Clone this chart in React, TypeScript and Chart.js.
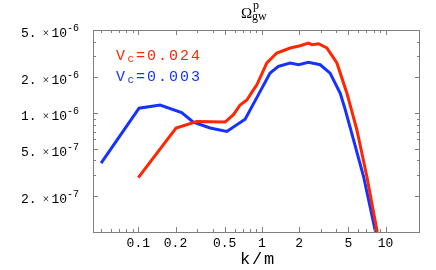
import React, { useEffect, useRef } from "react";
import { Chart, registerables } from "chart.js";

Chart.register(...registerables);

// ---- data ----
const kRed = [0.1, 0.202, 0.297, 0.504, 0.588, 0.666, 0.755, 0.853, 0.91, 1.096, 1.32, 1.69, 2.04, 2.38, 2.54, 2.87, 3.35, 4.04, 4.87, 5.87, 7.06, 8.57];
const omegaRed = [2.87e-7, 7.48e-7, 8.5e-7, 8.4e-7, 9.7e-7, 1.17e-6, 1.29e-6, 1.57e-6, 1.73e-6, 2.64e-6, 3.2e-6, 3.53e-6, 3.69e-6, 3.88e-6, 3.76e-6, 3.83e-6, 3.53e-6, 2.64e-6, 1.47e-6, 7.2e-7, 2.93e-7, 1.0e-7];
const kBlue = [0.05, 0.1014, 0.15, 0.224, 0.279, 0.381, 0.52, 0.731, 0.937, 1.164, 1.36, 1.69, 1.98, 2.38, 2.96, 3.56, 4.3, 4.72, 5.51, 6.64, 8.3];
const omegaBlue = [3.8e-7, 1.1e-6, 1.17e-6, 1.01e-6, 8.4e-7, 7.5e-7, 7.0e-7, 8.9e-7, 1.43e-6, 2.17e-6, 2.47e-6, 2.64e-6, 2.55e-6, 2.67e-6, 2.55e-6, 2.17e-6, 1.47e-6, 1.07e-6, 5.96e-7, 2.93e-7, 1.0e-7];

const seriesLabels = ["0.024", "0.003"];
const xMajorTicks = [0.1, 0.2, 0.5, 1, 2, 5, 10];
const xTickLabels = ["0.1", "0.2", "0.5", "1", "2", "5", "10"];
const xMinorTicks = [0.05, 0.06, 0.07, 0.08, 0.09, 0.3, 0.4, 0.6, 0.7, 0.8, 0.9, 3, 4, 6, 7, 8, 9];
const yMajorTicks = [2e-7, 5e-7, 1e-6, 2e-6, 5e-6];
const yTickMantissa = ["2.", "5.", "1.", "2.", "5."];
const yTickExponent = ["-7", "-7", "-6", "-6", "-6"];
const yMinorTicks = [3e-7, 4e-7, 6e-7, 7e-7, 8e-7, 9e-7, 3e-6, 4e-6];

const RED = "rgb(255,38,0)";
const BLUE = "rgb(22,50,255)";
const MONO = "'Liberation Mono', 'DejaVu Sans Mono', monospace";
const SERIF = "'Liberation Serif', 'DejaVu Serif', serif";

function drawSpaced(ctx: CanvasRenderingContext2D, text: string, x: number, y: number, adv: number) {
  for (let i = 0; i < text.length; i++) {
    ctx.fillText(text[i], x + i * adv, y);
  }
}

const framePlugin = {
  id: "framePlugin",
  afterDraw(chart: any) {
    const { ctx, chartArea: a, scales } = chart;
    const xs = scales.x;
    const ys = scales.y;
    ctx.save();
    // frame
    ctx.strokeStyle = "#7f7f7f";
    ctx.lineWidth = 1;
    ctx.strokeRect(a.left + 0.5, a.top + 0.5, a.right - a.left - 1, a.bottom - a.top);
    ctx.beginPath();
    const xt = (v: number, len: number) => {
      const px = Math.round(xs.getPixelForValue(v)) + 0.5;
      ctx.moveTo(px, a.bottom);
      ctx.lineTo(px, a.bottom - len);
      ctx.moveTo(px, a.top);
      ctx.lineTo(px, a.top + len);
    };
    const yt = (v: number, len: number) => {
      const py = Math.round(ys.getPixelForValue(v)) + 0.5;
      ctx.moveTo(a.left, py);
      ctx.lineTo(a.left + len, py);
      ctx.moveTo(a.right, py);
      ctx.lineTo(a.right - len, py);
    };
    xMajorTicks.forEach((v) => xt(v, 5));
    xMinorTicks.forEach((v) => xt(v, 3));
    yMajorTicks.forEach((v) => yt(v, 5));
    yMinorTicks.forEach((v) => yt(v, 3));
    ctx.stroke();

    // x tick labels
    ctx.fillStyle = "#000";
    ctx.font = `13px ${MONO}`;
    ctx.textAlign = "center";
    ctx.textBaseline = "alphabetic";
    xMajorTicks.forEach((v, i) => {
      ctx.fillText(xTickLabels[i], xs.getPixelForValue(v), 247);
    });

    // y tick labels
    yMajorTicks.forEach((v, i) => {
      const py = ys.getPixelForValue(v);
      const L = a.left;
      ctx.font = `13px ${MONO}`;
      ctx.textAlign = "left";
      ctx.fillText(yTickMantissa[i], L - 72, py + 7);
      ctx.font = `12px ${SERIF}`;
      ctx.textAlign = "center";
      ctx.fillText("\u00d7", L - 47, py + 7);
      ctx.font = `13px ${MONO}`;
      ctx.textAlign = "right";
      ctx.fillText("10", L - 26, py + 7);
      ctx.font = `10px ${MONO}`;
      ctx.textAlign = "left";
      ctx.fillText(yTickExponent[i], L - 26, py + 1);
    });

    // axis label k/m
    ctx.font = `17px ${MONO}`;
    ctx.textAlign = "left";
    drawSpaced(ctx, "k/m", 240, 264, 12);

    // title
    ctx.font = `15px ${SERIF}`;
    ctx.fillText("\u03a9", 241, 18);
    ctx.font = `12px ${SERIF}`;
    ctx.fillText("p", 253, 9);
    ctx.fillText("gw", 252, 20);

    // legend texts
    const leg = [
      { color: RED, y: 59.5, label: seriesLabels[0] },
      { color: BLUE, y: 80.5, label: seriesLabels[1] },
    ];
    leg.forEach((l) => {
      ctx.fillStyle = l.color;
      ctx.font = `15px ${MONO}`;
      ctx.textAlign = "left";
      ctx.fillText("V", 116, l.y);
      ctx.font = `11px ${MONO}`;
      ctx.fillText("c", 127.5, l.y + 2);
      ctx.font = `15px ${MONO}`;
      ctx.fillText("=", 136, l.y);
      drawSpaced(ctx, l.label, 147, l.y, 11);
    });
    ctx.restore();
  },
};

export default function App() {
  const ref = useRef<HTMLCanvasElement | null>(null);
  useEffect(() => {
    if (!ref.current) return;
    const chart = new Chart(ref.current, {
      type: "line",
      data: {
        datasets: [
          {
            label: "Vc=" + seriesLabels[0],
            data: kRed.map((k, i) => ({ x: k, y: omegaRed[i] })),
            borderColor: RED,
            borderWidth: 3,
            pointRadius: 0,
            tension: 0,
            fill: false,
            clip: 0,
          },
          {
            label: "Vc=" + seriesLabels[1],
            data: kBlue.map((k, i) => ({ x: k, y: omegaBlue[i] })),
            borderColor: BLUE,
            borderWidth: 3,
            pointRadius: 0,
            tension: 0,
            fill: false,
            clip: 0,
          },
        ],
      },
      options: {
        animation: false,
        responsive: false,
        devicePixelRatio: 1,
        layout: { padding: { left: 93, top: 30, right: 16, bottom: 38 } },
        plugins: { legend: { display: false }, tooltip: { enabled: false }, title: { display: false } },
        scales: {
          x: { type: "logarithmic", min: 0.043, max: 19, display: false },
          y: { type: "logarithmic", min: 1e-7, max: 5e-6, display: false },
        },
      },
      plugins: [framePlugin],
    } as any);
    return () => chart.destroy();
  }, []);
  return (
    <div style={{ position: "fixed", left: 0, top: 0, width: 436, height: 270, background: "#fff" }}>
      <canvas ref={ref} width={436} height={270} style={{ width: 436, height: 270, display: "block" }} />
    </div>
  );
}
